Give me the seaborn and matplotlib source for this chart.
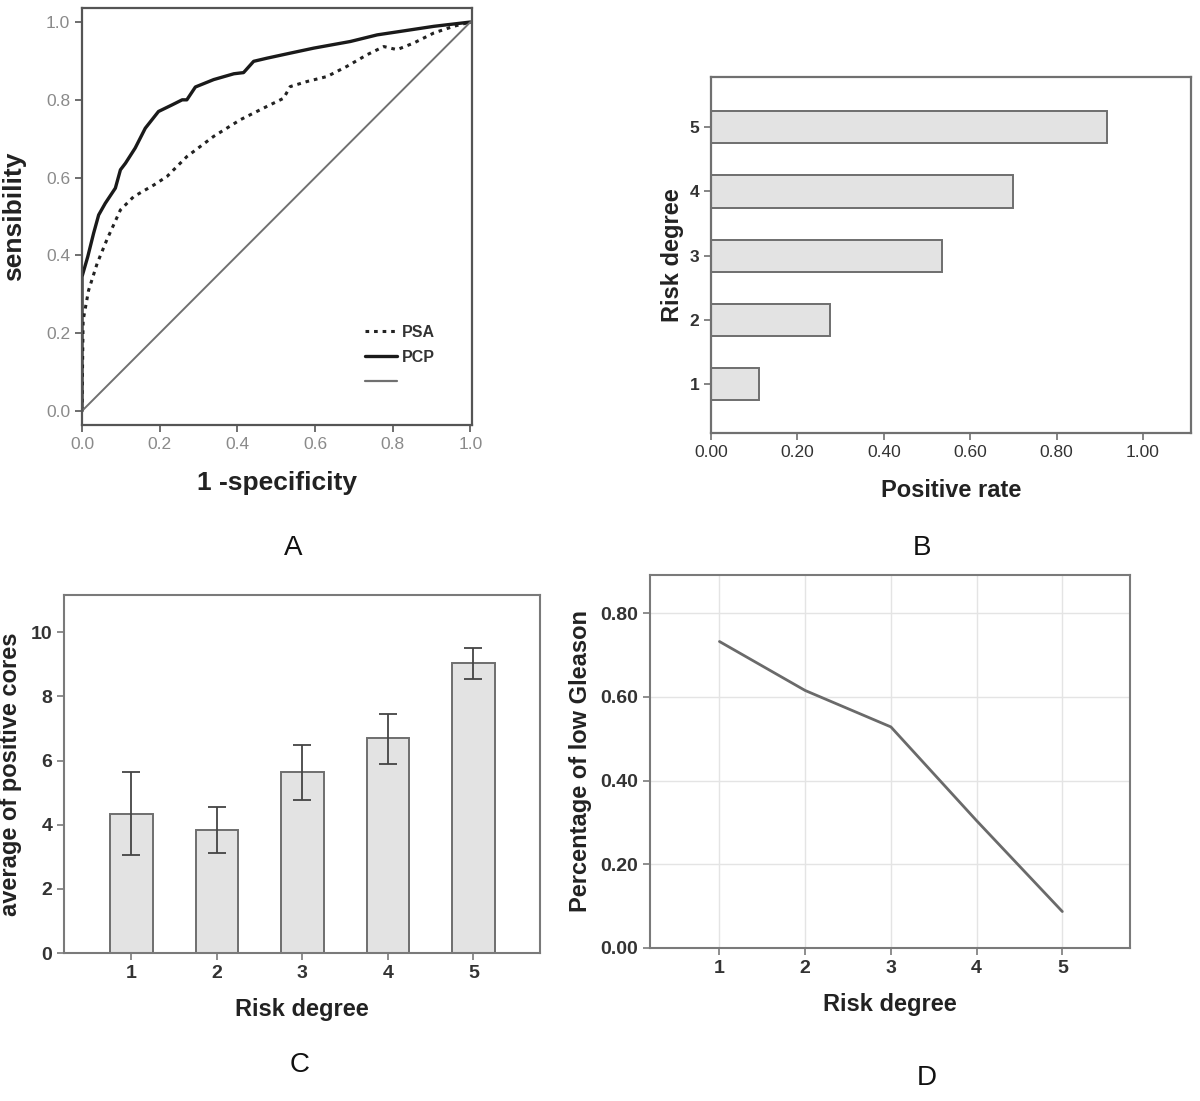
import matplotlib
matplotlib.use("Agg")
import matplotlib.pyplot as plt
from matplotlib.lines import Line2D
from matplotlib.ticker import FormatStrFormatter
import seaborn as sns
import numpy as np
import pandas as pd

# panel A: ROC curves
pcp_fpr = [0.0, 0.0, 0.015, 0.030, 0.043, 0.060, 0.086, 0.099, 0.112, 0.137, 0.163,
           0.197, 0.232, 0.258, 0.270, 0.292, 0.339, 0.391, 0.416, 0.442, 0.476,
           0.536, 0.597, 0.691, 0.760, 0.820, 0.906, 1.0]
pcp_tpr = [0.0, 0.345, 0.397, 0.457, 0.504, 0.534, 0.573, 0.620, 0.637, 0.676, 0.727,
           0.770, 0.787, 0.800, 0.800, 0.833, 0.852, 0.867, 0.870, 0.899, 0.907,
           0.920, 0.933, 0.950, 0.967, 0.976, 0.989, 1.0]
psa_fpr = [0.0, 0.003, 0.017, 0.039, 0.064, 0.099, 0.133, 0.185, 0.219, 0.270, 0.339,
           0.408, 0.476, 0.519, 0.536, 0.579, 0.631, 0.682, 0.734, 0.777, 0.811,
           0.854, 0.906, 0.957, 1.0]
psa_tpr = [0.0, 0.233, 0.310, 0.379, 0.440, 0.517, 0.551, 0.581, 0.603, 0.654, 0.706,
           0.749, 0.783, 0.804, 0.834, 0.847, 0.860, 0.886, 0.916, 0.937, 0.929,
           0.946, 0.972, 0.989, 1.0]
diag = [0.0, 1.0]

# panel B: positive rate per risk degree
risk_b = ["5", "4", "3", "2", "1"]
pos_rate = [0.917, 0.699, 0.534, 0.275, 0.111]

# panel C: average positive cores with error bars
risk_c = ["1", "2", "3", "4", "5"]
avg_cores = [4.34, 3.85, 5.64, 6.69, 9.03]
cores_lo = [3.04, 3.12, 4.78, 5.89, 8.54]
cores_hi = [5.63, 4.55, 6.47, 7.46, 9.52]

# panel D: share of low Gleason
risk_d = [1, 2, 3, 4, 5]
low_gleason = [0.732, 0.615, 0.528, 0.304, 0.087]

sns.set_style("ticks")
plt.rcParams['font.family'] = ['Liberation Sans', 'DejaVu Sans']

fig = plt.figure(figsize=(12, 11.01), dpi=100)

bar_fill = "#e3e3e3"
bar_edge = "#6e6e6e"


def frame(ax, col, lw=1.4):
    for s in ax.spines.values():
        s.set_color(col)
        s.set_linewidth(lw)
    ax.tick_params(direction="out", length=5, width=1.2, color=col)


# ---- A ----
axA = fig.add_axes([0.0683, 0.614, 0.325, 0.3787])
rocA = pd.DataFrame({"x": pcp_fpr, "y": pcp_tpr})
rocB = pd.DataFrame({"x": psa_fpr, "y": psa_tpr})
sns.lineplot(data=rocB, x="x", y="y", ax=axA, color="#222222", lw=2.2,
             linestyle=(0, (1.2, 1.6)), sort=False, estimator=None)
sns.lineplot(data=rocA, x="x", y="y", ax=axA, color="#1a1a1a", lw=2.4,
             sort=False, estimator=None)
sns.lineplot(x=diag, y=diag, ax=axA, color="#707070", lw=1.4)
axA.set_xlim(0, 1.004)
axA.set_ylim(-0.036, 1.036)
axA.set_xticks(np.arange(0, 1.01, 0.2))
axA.set_yticks(np.arange(0, 1.01, 0.2))
axA.xaxis.set_major_formatter(FormatStrFormatter("%.1f"))
axA.yaxis.set_major_formatter(FormatStrFormatter("%.1f"))
frame(axA, "#555555", 1.6)
axA.tick_params(labelsize=12.5, labelcolor="#8a8a8a")
axA.set_xlabel("1 -specificity", fontsize=19, fontweight="bold", color="#222222", labelpad=14)
axA.set_ylabel("sensibility", fontsize=19, fontweight="bold", color="#222222", labelpad=14)
handles = [Line2D([], [], color="#222222", lw=2.2, linestyle=(0, (1.2, 1.6))),
           Line2D([], [], color="#1a1a1a", lw=2.4),
           Line2D([], [], color="#707070", lw=1.6)]
leg = axA.legend(handles, ["PSA", "PCP", " "], loc="upper left",
                 bbox_to_anchor=(0.728, 0.221), bbox_transform=axA.transData,
                 frameon=False, fontsize=11.5, handlelength=2.0, handletextpad=0.35,
                 labelspacing=0.6, borderpad=0, borderaxespad=0)
for t in leg.get_texts():
    t.set_fontweight("bold")
    t.set_color("#333333")

# ---- B ----
axB = fig.add_axes([0.5925, 0.6067, 0.4, 0.3233])
sns.barplot(x=pos_rate, y=risk_b, order=risk_b, orient="h", ax=axB, width=0.5,
            color=bar_fill, saturation=1, edgecolor=bar_edge, linewidth=1.4)
axB.set_xlim(0, 1.111)
axB.set_ylim(4.76, -0.78)
axB.set_xticks(np.arange(0, 1.01, 0.2))
axB.xaxis.set_major_formatter(FormatStrFormatter("%.2f"))
frame(axB, "#707070", 1.6)
axB.tick_params(labelsize=12.5, labelcolor="#333333")
for t in axB.get_yticklabels():
    t.set_fontweight("bold")
axB.set_xlabel("Positive rate", fontsize=17, fontweight="bold", color="#222222", labelpad=14)
axB.set_ylabel("Risk degree", fontsize=17, fontweight="bold", color="#222222", labelpad=4)

# ---- C ----
axC = fig.add_axes([0.0533, 0.1344, 0.3967, 0.3252])
sns.barplot(x=risk_c, y=avg_cores, order=risk_c, ax=axC, width=0.5,
            color=bar_fill, saturation=1, edgecolor=bar_edge, linewidth=1.4)
means = np.array(avg_cores)
axC.errorbar(np.arange(len(risk_c)), means,
             yerr=[means - np.array(cores_lo), np.array(cores_hi) - means],
             fmt="none", ecolor="#444444", elinewidth=1.3, capsize=6.5, capthick=1.3)
axC.set_xlim(-0.79, 4.78)
axC.set_ylim(0, 11.16)
axC.set_yticks([0, 2, 4, 6, 8, 10])
frame(axC, "#7a7a7a", 1.5)
axC.tick_params(labelsize=14, labelcolor="#333333")
for t in axC.get_xticklabels() + axC.get_yticklabels():
    t.set_fontweight("bold")
axC.set_xlabel("Risk degree", fontsize=17, fontweight="bold", color="#222222", labelpad=12)
axC.set_ylabel("average of positive cores", fontsize=17, fontweight="bold", color="#222222", labelpad=6)

# ---- D ----
axD = fig.add_axes([0.5417, 0.139, 0.4, 0.3388])
sns.lineplot(x=risk_d, y=low_gleason, ax=axD, color="#6a6a6a", lw=2.0)
axD.set_xlim(0.19, 5.79)
axD.set_ylim(0, 0.891)
axD.set_xticks(risk_d)
axD.set_yticks(np.arange(0, 0.81, 0.2))
axD.yaxis.set_major_formatter(FormatStrFormatter("%.2f"))
axD.grid(True, color="#e4e4e4", lw=1.0)
axD.set_axisbelow(True)
frame(axD, "#7a7a7a", 1.5)
axD.tick_params(labelsize=14, labelcolor="#333333")
for t in axD.get_xticklabels() + axD.get_yticklabels():
    t.set_fontweight("bold")
axD.set_xlabel("Risk degree", fontsize=17, fontweight="bold", color="#222222", labelpad=12)
axD.set_ylabel("Percentage of low Gleason", fontsize=17, fontweight="bold", color="#222222", labelpad=6)

# panel letters
for lbl, x, y in [("A", 0.244, 0.502), ("B", 0.768, 0.502), ("C", 0.25, 0.033), ("D", 0.772, 0.021)]:
    fig.text(x, y, lbl, fontsize=20, ha="center", va="center", color="#111111")

fig.savefig("out.png", dpi=100)
